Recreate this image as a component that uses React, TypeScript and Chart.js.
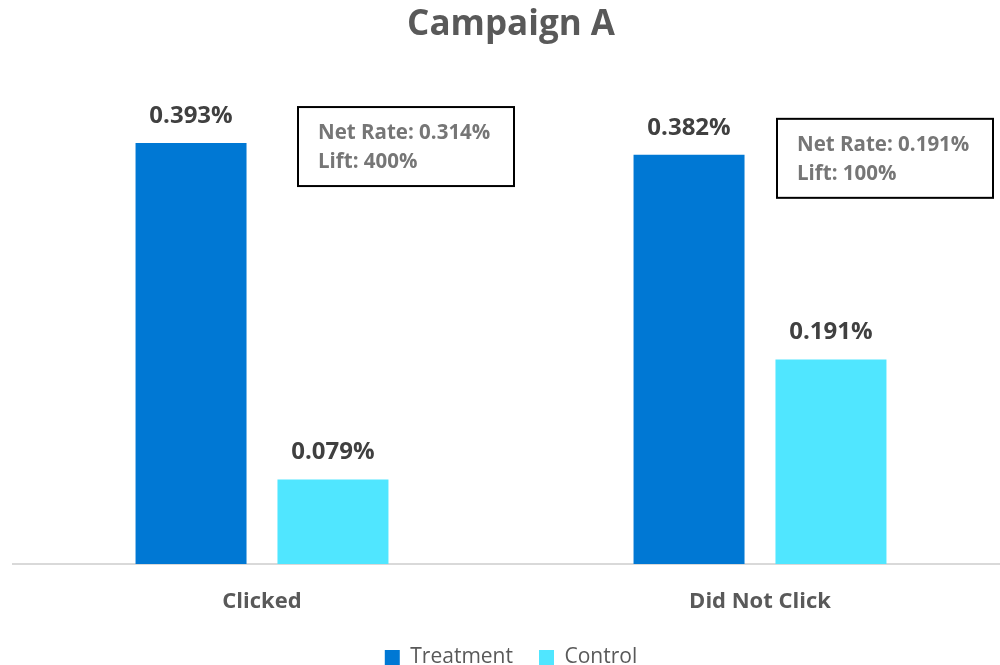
import React, { useEffect, useRef } from "react";
import { Chart, registerables } from "chart.js";

Chart.register(...registerables);

const categories = ["Clicked", "Did Not Click"];
const seriesNames = ["Treatment", "Control"];
const treatmentValues = [0.393, 0.382];
const controlValues = [0.079, 0.191];
const netRates = ["0.314%", "0.191%"];
const lifts = ["400%", "100%"];

const FONT = "'Open Sans', 'Noto Sans', sans-serif";

const valueLabelPlugin = {
  id: "valueLabels",
  afterDatasetsDraw(chart: any) {
    const ctx = chart.ctx;
    ctx.save();
    ctx.font = `bold 24px ${FONT}`;
    ctx.fillStyle = "#404040";
    ctx.textAlign = "center";
    ctx.textBaseline = "middle";
    chart.data.datasets.forEach((ds: any, di: number) => {
      const meta = chart.getDatasetMeta(di);
      meta.data.forEach((bar: any, i: number) => {
        const v = ds.data[i] as number;
        ctx.fillText(v.toFixed(3) + "%", bar.x, bar.y - 27);
      });
    });
    ctx.restore();
  },
};

const annotationPlugin = {
  id: "netRateBoxes",
  afterDatasetsDraw(chart: any, _args: any, opts: any) {
    const ctx = chart.ctx;
    const xs = chart.scales.x;
    const ys = chart.scales.y;
    categories.forEach((_c, i) => {
      const left = xs.getPixelForValue(i) + opts.offsetX[i];
      const top = ys.getPixelForValue(treatmentValues[i]) - 36;
      const w = 216;
      const h = 79;
      ctx.save();
      ctx.fillStyle = "#ffffff";
      ctx.fillRect(left, top, w, h);
      ctx.strokeStyle = "#000000";
      ctx.lineWidth = 2;
      ctx.strokeRect(left, top, w, h);
      ctx.font = `bold 20.5px ${FONT}`;
      ctx.fillStyle = "#767676";
      ctx.textAlign = "left";
      ctx.textBaseline = "middle";
      ctx.fillText(`Net Rate: ${netRates[i]}`, left + 20, top + 26);
      ctx.fillText(`Lift: ${lifts[i]}`, left + 20, top + 55);
      ctx.restore();
    });
  },
};

export default function App() {
  const canvasRef = useRef<HTMLCanvasElement | null>(null);

  useEffect(() => {
    if (!canvasRef.current) return;
    const chart = new Chart(canvasRef.current, {
      type: "bar",
      data: {
        labels: categories,
        datasets: [
          {
            label: seriesNames[0],
            data: treatmentValues,
            backgroundColor: "#0078D4",
            borderWidth: 0,
            barPercentage: 0.782,
            categoryPercentage: 0.57,
          },
          {
            label: seriesNames[1],
            data: controlValues,
            backgroundColor: "#50E6FF",
            borderWidth: 0,
            barPercentage: 0.782,
            categoryPercentage: 0.57,
          },
        ],
      },
      options: {
        responsive: false,
        animation: false,
        devicePixelRatio: 1,
        layout: { padding: { left: 13, right: 1, top: 0, bottom: 0 } },
        scales: {
          x: {
            grid: { display: false },
            border: { display: true, color: "#d9d9d9", width: 2 },
            ticks: {
              font: { family: FONT, size: 22, weight: "bold" },
              color: "#595959",
              padding: 17,
            },
            afterFit: (s: any) => {
              s.height = 57;
            },
          },
          y: { display: false, min: 0, max: 0.45 },
        },
        plugins: {
          title: {
            display: true,
            text: "Campaign A",
            font: { family: FONT, size: 35, weight: "bold" },
            color: "#595959",
            padding: { top: 4, bottom: 36 },
          },
          legend: {
            position: "bottom",
            labels: {
              boxWidth: 15,
              boxHeight: 15,
              font: { family: FONT, size: 21 },
              color: "#595959",
              padding: 26,
            },
          },
          tooltip: { enabled: false },
          netRateBoxes: { offsetX: [36, 17] },
        } as any,
      },
      plugins: [valueLabelPlugin, annotationPlugin],
    });
    return () => chart.destroy();
  }, []);

  return (
    <div
      style={{
        position: "absolute",
        left: 0,
        top: 0,
        width: 1000,
        height: 665,
        overflow: "hidden",
        background: "#ffffff",
      }}
    >
      <canvas ref={canvasRef} width={1010} height={678} style={{ display: "block" }} />
    </div>
  );
}
